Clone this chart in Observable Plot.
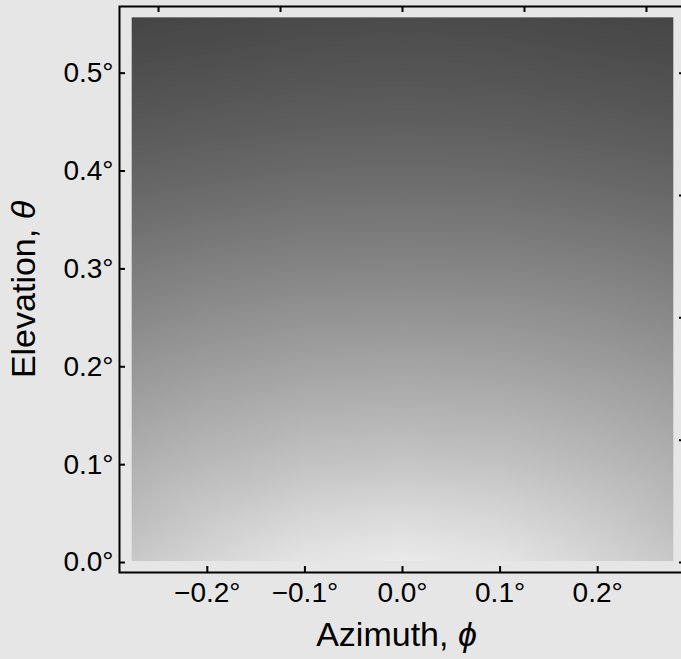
<!DOCTYPE html>
<html><head><meta charset="utf-8">
<script src="https://cdn.jsdelivr.net/npm/d3@7"></script>
<script src="https://cdn.jsdelivr.net/npm/@observablehq/plot@0.6"></script>
<style>
html,body{margin:0;padding:0;background:#e6e6e6;overflow:hidden}
</style></head><body><div id="chart"></div>
<script>
// Azimuth sample positions (degrees) and elevation sample positions (degrees)
const azimuth = [-0.2775, -0.2, -0.1, 0, 0.1, 0.2, 0.2775];
const elevation = [0.0015, 0.05, 0.1, 0.15, 0.2, 0.25, 0.3, 0.35, 0.4, 0.45, 0.5, 0.557];
// Gray level (0-255), one row per elevation
const shade = [
  [200, 213, 228, 234, 228, 213, 200],
  [188, 201, 213, 218, 213, 201, 188],
  [177, 186, 195, 198, 195, 186, 177],
  [164, 172, 179, 181, 179, 172, 164],
  [151, 157, 163, 165, 163, 157, 151],
  [137, 143, 148, 149, 148, 143, 137],
  [124, 129, 133, 134, 133, 129, 124],
  [111, 115, 119, 120, 119, 115, 111],
  [ 99, 102, 106, 107, 106, 102,  99],
  [ 88,  91,  94,  95,  94,  91,  88],
  [ 79,  81,  84,  85,  84,  81,  79],
  [ 69,  71,  74,  75,  74,  71,  69]
];
const xTicks = [-0.2, -0.1, 0, 0.1, 0.2];
const yTicks = [0, 0.1, 0.2, 0.3, 0.4, 0.5];
const topTicks = [-0.25, -0.125, 0, 0.125, 0.25];
const rightTicks = [0, 0.125, 0.25, 0.375, 0.5];
const xTitle = ["Azimuth, ", "\u03D5"];
const yTitle = ["Elevation, ", "\u03B8"];

const grid = [];
elevation.forEach((t, j) => azimuth.forEach((p, i) => grid.push({p, t, v: shade[j][i]})));

const fmt = d => (d < 0 ? "\u2212" : "") + Math.abs(d).toFixed(1) + "\u00B0";
const FONT = "'Liberation Sans', Arial, sans-serif";

const chart = Plot.plot({
  width: 681, height: 659,
  marginLeft: 119, marginRight: -4, marginTop: 6, marginBottom: 87,
  style: {background: "#e6e6e6", fontFamily: FONT, color: "black"},
  x: {domain: [-0.29, 0.29]},
  y: {domain: [-0.0102, 0.5681]},
  color: {type: "linear", domain: [0, 255], range: ["#000000", "#ffffff"]},
  marks: [
    Plot.raster(grid, {x: "p", y: "t", fill: "v", x1: azimuth[0], x2: azimuth[azimuth.length - 1],
      y1: elevation[0], y2: elevation[elevation.length - 1], interpolate: "barycentric"}),
    Plot.frame({stroke: "black", strokeWidth: 2}),
    Plot.tickX(xTicks, {x: d => d, insetTop: 560, stroke: "black", strokeWidth: 2}),
    Plot.tickX(topTicks, {x: d => d, insetBottom: 560, stroke: "black", strokeWidth: 2}),
    Plot.tickY(yTicks, {y: d => d, insetRight: 560, stroke: "black", strokeWidth: 2}),
    Plot.tickY(rightTicks, {y: d => d, insetLeft: 560, stroke: "black", strokeWidth: 2}),
    Plot.axisX(xTicks, {anchor: "bottom", tickSize: 0, tickPadding: 10, tickFormat: fmt, fontSize: 28, label: null}),
    Plot.axisY(yTicks, {anchor: "left", tickSize: 0, tickPadding: 6, tickFormat: fmt, fontSize: 28, label: null}),
    Plot.text([xTitle.join("")], {frameAnchor: "bottom", dx: -6, dy: 73, fontSize: 34, textAnchor: "middle", className: "xtitle"}),
    Plot.text([yTitle.join("")], {frameAnchor: "left", dx: -95, rotate: -90, fontSize: 34, textAnchor: "middle", lineAnchor: "middle", className: "ytitle"})
  ]
});

function italicize(sel, parts) {
  const t = d3.select(chart).select(sel).select("text");
  t.text(null);
  t.append("tspan").text(parts[0]);
  t.append("tspan").attr("font-style", "italic").text(parts[1]);
}
document.getElementById("chart").appendChild(chart);
italicize(".xtitle", xTitle);
italicize(".ytitle", yTitle);
</script>
</body></html>
